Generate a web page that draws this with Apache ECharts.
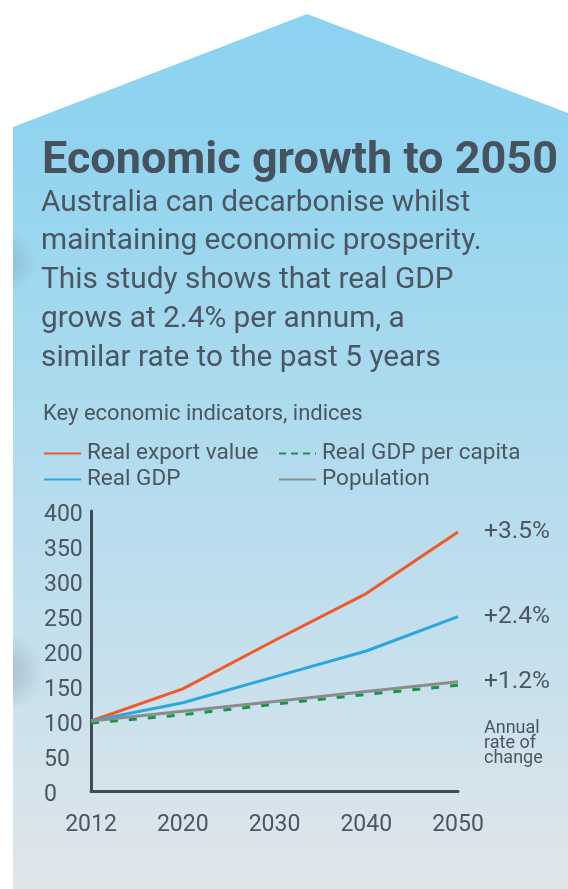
<!DOCTYPE html>
<html>
<head>
<meta charset="utf-8">
<title>Economic growth to 2050</title>
<script src="https://cdn.jsdelivr.net/npm/echarts@6/dist/echarts.min.js"></script>
<style>
  html, body { margin: 0; padding: 0; background: #ffffff; }
  #chart { width: 568px; height: 889px; }
</style>
</head>
<body>
<div id="chart"></div>
<script>
// Index values (2012 = 100)
const years = ['2012', '2020', '2030', '2040', '2050'];
const realExportValue = [100, 146, 215, 282, 370];
const realGDP = [100, 126, 163, 200, 249];
const realGDPPerCapita = [97, 109, 124, 138, 151];
const population = [100, 114, 128, 142, 156];

// Annual rate of change shown at the end of each line
const exportRate = '+3.5%';
const gdpRate = '+2.4%';
const populationRate = '+1.2%';

const yTicks = { min: 0, max: 400, interval: 50 };

const TEXT = '#4b5660';
const AXIS = '#3f4b55';
const FONT = 'Roboto, "Noto Sans", sans-serif';

const chart = echarts.init(document.getElementById('chart'), null, { renderer: 'canvas' });

function endLabel(text) {
  return {
    show: true,
    formatter: () => text,
    color: TEXT,
    fontFamily: FONT,
    fontSize: 24.5,
    distance: 26
  };
}

const legendCommon = {
  top: 442,
  orient: 'vertical',
  padding: 0,
  itemWidth: 37,
  itemHeight: 14,
  itemGap: 3,
  itemStyle: { opacity: 0 },
  textStyle: { color: TEXT, fontFamily: FONT, fontSize: 22.5, lineHeight: 22, padding: [0, 0, 0, 1] }
};

const option = {
  animation: false,
  backgroundColor: '#ffffff',
  graphic: [
    {
      type: 'polygon',
      z: -10,
      shape: { points: [[13, 889], [13, 127], [307, 14], [568, 113], [568, 889]] },
      style: {
        fill: new echarts.graphic.LinearGradient(0, 0, 0, 1, [
          { offset: 0, color: '#8cd3f1' },
          { offset: 0.16, color: '#92d4f0' },
          { offset: 0.44, color: '#acdbee' },
          { offset: 0.61, color: '#bbdded' },
          { offset: 0.78, color: '#cae1ec' },
          { offset: 1, color: '#e1e6ea' }
        ])
      }
    },
    {
      type: 'circle',
      z: -9,
      shape: { cx: 4, cy: 262, r: 32 },
      style: {
        fill: new echarts.graphic.RadialGradient(0.5, 0.5, 0.5, [
          { offset: 0, color: 'rgba(90,110,125,0.28)' },
          { offset: 1, color: 'rgba(90,110,125,0)' }
        ])
      }
    },
    {
      type: 'circle',
      z: -9,
      shape: { cx: 4, cy: 672, r: 40 },
      style: {
        fill: new echarts.graphic.RadialGradient(0.5, 0.5, 0.5, [
          { offset: 0, color: 'rgba(90,110,125,0.32)' },
          { offset: 1, color: 'rgba(90,110,125,0)' }
        ])
      }
    },
    {
      type: 'rect',
      z: -8,
      shape: { x: 0, y: 0, width: 13, height: 889 },
      style: { fill: '#ffffff' }
    },
    {
      type: 'text',
      left: 484,
      top: 719,
      style: {
        text: 'Annual\nrate of\nchange',
        fill: TEXT,
        font: '18px ' + FONT,
        lineHeight: 15
      }
    }
  ],
  title: [
    {
      text: 'Economic growth to 2050',
      left: 42,
      top: 139,
      padding: 0,
      textStyle: { color: '#46535e', fontFamily: FONT, fontWeight: 'bold', fontSize: 45 }
    },
    {
      text: 'Australia can decarbonise whilst\nmaintaining economic prosperity.\nThis study shows that real GDP\ngrows at 2.4% per annum, a\nsimilar rate to the past 5 years',
      left: 41,
      top: 184,
      padding: 0,
      textStyle: { color: TEXT, fontFamily: FONT, fontWeight: 'normal', fontSize: 29.8, lineHeight: 38.7 }
    },
    {
      text: 'Key economic indicators, indices',
      left: 43,
      top: 403,
      padding: 0,
      textStyle: { color: TEXT, fontFamily: FONT, fontWeight: 'normal', fontSize: 22 }
    }
  ],
  legend: [
    Object.assign({ left: 43, data: ['Real export value', 'Real GDP'] }, legendCommon),
    Object.assign({
      left: 278,
      data: [
        { name: 'Real GDP per capita', lineStyle: { type: [7, 5] } },
        'Population'
      ]
    }, legendCommon)
  ],
  grid: { left: 91, right: 110, top: 511, bottom: 98, containLabel: false },
  xAxis: {
    type: 'category',
    boundaryGap: false,
    data: years,
    axisLine: { show: true, lineStyle: { color: AXIS, width: 3 } },
    axisTick: { show: false },
    splitLine: { show: false },
    axisLabel: { color: TEXT, fontFamily: FONT, fontSize: 23, margin: 23 }
  },
  yAxis: {
    type: 'value',
    min: yTicks.min,
    max: yTicks.max,
    interval: yTicks.interval,
    axisLine: { show: true, lineStyle: { color: AXIS, width: 3 } },
    axisTick: { show: false },
    splitLine: { show: false },
    axisLabel: {
      color: TEXT, fontFamily: FONT, fontSize: 23,
      align: 'left', margin: 47,
      verticalAlign: 'top', lineHeight: 8
    }
  },
  series: [
    {
      name: 'Real export value',
      type: 'line',
      data: realExportValue,
      symbol: 'none',
      color: '#ef5a2a',
      lineStyle: { width: 3, color: '#ef5a2a' },
      endLabel: endLabel(exportRate)
    },
    {
      name: 'Real GDP',
      type: 'line',
      data: realGDP,
      symbol: 'none',
      color: '#2aa7e1',
      lineStyle: { width: 3, color: '#2aa7e1' },
      endLabel: endLabel(gdpRate)
    },
    {
      name: 'Real GDP per capita',
      type: 'line',
      data: realGDPPerCapita,
      symbol: 'none',
      color: '#16954a',
      lineStyle: { width: 3, color: '#16954a', type: [8, 11] }
    },
    {
      name: 'Population',
      type: 'line',
      data: population,
      symbol: 'none',
      color: '#8b8c8e',
      lineStyle: { width: 3, color: '#8b8c8e' },
      endLabel: endLabel(populationRate)
    }
  ]
};

chart.setOption(option);
</script>
</body>
</html>
